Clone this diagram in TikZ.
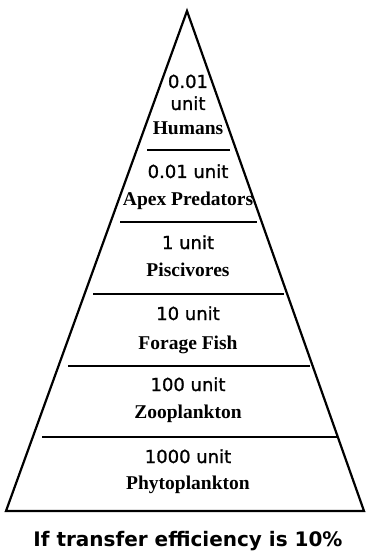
\documentclass[tikz,border=0pt]{standalone}
\usepackage{fontspec}
\setmainfont{Liberation Serif}
\newfontfamily\numfont{DejaVu Sans}[FakeBold=1.2]
\newfontfamily\capfont{DejaVu Sans}
\begin{document}
\begin{tikzpicture}[x=1pt,y=-1pt,
  outline/.style={line width=2.2pt, line join=miter},
  level/.style={line width=2pt},
  numtxt/.style={font=\numfont\fontsize{18}{18}\selectfont, inner sep=0pt, anchor=base},
  nametxt/.style={font=\bfseries\fontsize{19.5}{19.5}\selectfont, inner sep=0pt, anchor=base},
  captxt/.style={font=\capfont\bfseries\fontsize{20}{20}\selectfont, inner sep=0pt, anchor=base}]
\useasboundingbox (0,0) rectangle (366,556);
% pyramid
\coordinate (apex) at (187,11);
\coordinate (bl) at (6,511);
\coordinate (br) at (364,511);
\draw[outline] (bl) -- (apex) -- (br) -- cycle;
% level lines
\coordinate (l1a) at (147,150); \coordinate (l1b) at (230,150);
\coordinate (l2a) at (120,222); \coordinate (l2b) at (257,222);
\coordinate (l3a) at (93,294);  \coordinate (l3b) at (284,294);
\coordinate (l4a) at (68,366);  \coordinate (l4b) at (310,366);
\coordinate (l5a) at (42,437);  \coordinate (l5b) at (337,437);
\draw[level] (l1a) -- (l1b);
\draw[level] (l2a) -- (l2b);
\draw[level] (l3a) -- (l3b);
\draw[level] (l4a) -- (l4b);
\draw[level] (l5a) -- (l5b);
% texts
\node[numtxt] (h1) at (188,88) {0.01};
\node[numtxt] (h2) at (188,110) {unit};
\node[nametxt] (h3) at (188,135) {Humans};
\node[numtxt] (a1) at (188,178) {0.01 unit};
\node[nametxt] (a2) at (188,205) {Apex Predators};
\node[numtxt] (p1) at (188,249) {1 unit};
\node[nametxt] (p2) at (188,276) {Piscivores};
\node[numtxt] (f1) at (188,320) {10 unit};
\node[nametxt] (f2) at (188,349) {Forage Fish};
\node[numtxt] (z1) at (188,391) {100 unit};
\node[nametxt] (z2) at (188,418) {Zooplankton};
\node[numtxt] (y1) at (188,463) {1000 unit};
\node[nametxt] (y2) at (188,489) {Phytoplankton};
\node[captxt] (cap) at (188,546) {If transfer efficiency is 10\%};
\end{tikzpicture}
\end{document}
